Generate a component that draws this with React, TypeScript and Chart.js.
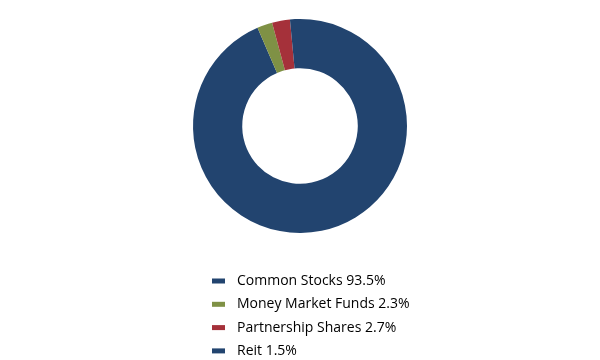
import { useEffect, useRef } from 'react';
import { Chart, registerables } from 'chart.js';

Chart.register(...registerables);

const categories = ['Common Stocks', 'Money Market Funds', 'Partnership Shares', 'Reit'];
const values = [93.5, 2.3, 2.7, 1.5];
const colors = ['#22446f', '#7f9145', '#a5313a', '#22446f'];

const stackedLegend = {
  id: 'stackedLegend',
  afterDraw(chart: any) {
    const ctx = chart.ctx as CanvasRenderingContext2D;
    const area = chart.chartArea;
    const cx = (area.left + area.right) / 2;
    const startX = cx - 88;
    const startY = area.bottom + 48;
    const rowH = 23.3;
    ctx.save();
    ctx.font = '14px "Open Sans"';
    ctx.textBaseline = 'middle';
    ctx.textAlign = 'left';
    categories.forEach((name, i) => {
      const y = startY + i * rowH;
      ctx.fillStyle = colors[i];
      ctx.fillRect(startX, y - 2.5, 13, 5);
      ctx.fillStyle = '#000000';
      ctx.fillText(`${name} ${values[i].toFixed(1)}%`, startX + 25, y);
    });
    ctx.restore();
  },
};

export default function App() {
  const ref = useRef<HTMLCanvasElement | null>(null);
  useEffect(() => {
    document.body.style.margin = '0';
    if (!ref.current) return;
    const chart = new Chart(ref.current, {
      type: 'doughnut',
      data: {
        labels: categories,
        datasets: [
          {
            data: values,
            backgroundColor: colors,
            borderColor: 'rgba(255,255,255,0.6)',
            borderWidth: 0,
          },
        ],
      },
      options: {
        responsive: false,
        animation: false,
        cutout: '54%',
        layout: { padding: { top: 19, bottom: 127, left: 0, right: 0 } },
        plugins: {
          legend: { display: false },
          tooltip: { enabled: false },
        },
      },
      plugins: [stackedLegend],
    });
    return () => chart.destroy();
  }, []);
  return (
    <div style={{ width: 600, height: 360 }}>
      <canvas ref={ref} width={600} height={360} />
    </div>
  );
}
